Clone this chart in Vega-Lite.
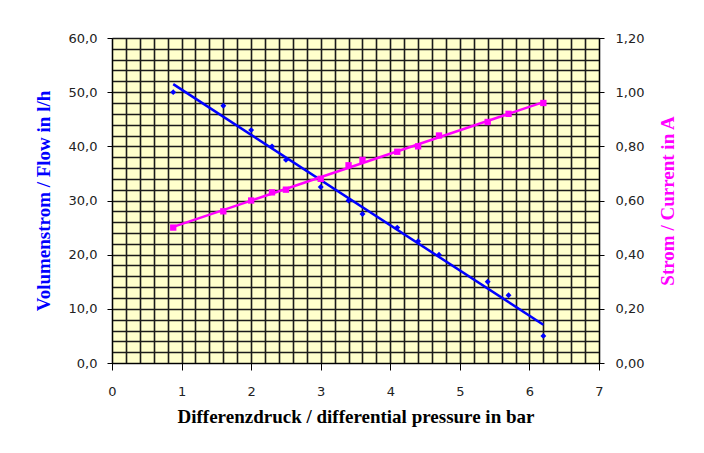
{
  "$schema": "https://vega.github.io/schema/vega-lite/v6.json",
  "width": 487,
  "height": 325,
  "autosize": {"type": "none"},
  "padding": {"left": 112, "top": 38, "right": 105, "bottom": 90},
  "background": "#ffffff",
  "config": {
    "view": {"fill": "#FFFFCC", "stroke": "#808080", "strokeWidth": 1},
    "axis": {
      "labelFont": "DejaVu Sans",
      "labelFontSize": 13,
      "labelColor": "#222222",
      "domainColor": "#000000",
      "tickColor": "#000000",
      "titleFont": "Liberation Serif",
      "titleFontWeight": "bold",
      "titleFontSize": 19,
      "labelOverlap": false,
      "labelFlush": false
    }
  },
  "datasets": {
    "flow": [
      {"pressure": 0.88, "flow": 50.0},
      {"pressure": 1.6, "flow": 47.5},
      {"pressure": 2.0, "flow": 43.0},
      {"pressure": 2.3, "flow": 40.0},
      {"pressure": 2.5, "flow": 37.5},
      {"pressure": 3.0, "flow": 32.5},
      {"pressure": 3.4, "flow": 30.0},
      {"pressure": 3.6, "flow": 27.5},
      {"pressure": 4.1, "flow": 25.0},
      {"pressure": 4.4, "flow": 22.5},
      {"pressure": 4.7, "flow": 20.0},
      {"pressure": 5.4, "flow": 15.0},
      {"pressure": 5.7, "flow": 12.5},
      {"pressure": 6.2, "flow": 5.0}
    ],
    "current": [
      {"pressure": 0.88, "current": 0.50},
      {"pressure": 1.6, "current": 0.56},
      {"pressure": 2.0, "current": 0.60},
      {"pressure": 2.3, "current": 0.63},
      {"pressure": 2.5, "current": 0.64},
      {"pressure": 3.0, "current": 0.68},
      {"pressure": 3.4, "current": 0.73},
      {"pressure": 3.6, "current": 0.75},
      {"pressure": 4.1, "current": 0.78},
      {"pressure": 4.4, "current": 0.80},
      {"pressure": 4.7, "current": 0.84},
      {"pressure": 5.4, "current": 0.89},
      {"pressure": 5.7, "current": 0.92},
      {"pressure": 6.2, "current": 0.96}
    ]
  },
  "encoding": {
    "x": {
      "field": "pressure",
      "type": "quantitative",
      "scale": {"domain": [0, 7], "nice": false, "zero": false},
      "axis": {
        "values": [0, 0.2, 0.4, 0.6, 0.8, 1, 1.2, 1.4, 1.6, 1.8, 2, 2.2, 2.4, 2.6, 2.8, 3, 3.2, 3.4, 3.6, 3.8, 4, 4.2, 4.4, 4.6, 4.8, 5, 5.2, 5.4, 5.6, 5.8, 6, 6.2, 6.4, 6.6, 6.8, 7],
        "grid": true,
        "gridColor": "#1a1a1a",
        "gridWidth": 1.6,
        "gridOpacity": 1,
        "tickSize": 7,
        "tickOpacity": {"condition": {"test": "datum.value == round(datum.value)", "value": 1}, "value": 0},
        "labelExpr": "datum.value == round(datum.value) ? format(datum.value, 'd') : ''",
        "labelPadding": 15,
        "title": "Differenzdruck / differential pressure in bar",
        "titleColor": "#000000",
        "titleX": 243.5,
        "titleY": 53,
        "titleAlign": "center",
        "titleBaseline": "middle"
      }
    }
  },
  "layer": [
    {
      "data": {"name": "flow"},
      "encoding": {
        "y": {
          "field": "flow",
          "type": "quantitative",
          "scale": {"domain": [0, 60], "nice": false},
          "axis": {
            "orient": "left",
            "values": [0, 2, 4, 6, 8, 10, 12, 14, 16, 18, 20, 22, 24, 26, 28, 30, 32, 34, 36, 38, 40, 42, 44, 46, 48, 50, 52, 54, 56, 58, 60],
            "grid": true,
            "gridColor": "#1a1a1a",
            "gridWidth": 1.6,
            "gridOpacity": 1,
            "tickSize": 5,
            "tickOpacity": {"condition": {"test": "datum.value % 10 == 0", "value": 1}, "value": 0},
            "labelExpr": "datum.value % 10 == 0 ? replace(format(datum.value, '.1f'), '.', ',') : ''",
            "labelPadding": 10,
            "title": "Volumenstrom / Flow in l/h",
            "titleColor": "#0000FF",
            "titleAngle": -90,
            "titleX": -69,
            "titleY": 162.5,
            "titleAlign": "center",
            "titleBaseline": "middle"
          }
        }
      },
      "layer": [
        {
          "transform": [{"regression": "flow", "on": "pressure"}],
          "mark": {"type": "line", "color": "#0000FF", "strokeWidth": 2.5}
        },
        {
          "mark": {"type": "point", "shape": "diamond", "filled": true, "color": "#0000FF", "size": 35, "opacity": 1}
        }
      ]
    },
    {
      "data": {"name": "current"},
      "encoding": {
        "y": {
          "field": "current",
          "type": "quantitative",
          "scale": {"domain": [0, 1.2], "nice": false},
          "axis": {
            "orient": "right",
            "values": [0, 0.2, 0.4, 0.6, 0.8, 1, 1.2],
            "grid": false,
            "tickSize": 5,
            "labelExpr": "replace(format(datum.value, '.2f'), '.', ',')",
            "labelPadding": 11,
            "title": "Strom / Current in A",
            "titleColor": "#FF00FF",
            "titleAngle": 270,
            "titleX": 68,
            "titleY": 162.5,
            "titleAlign": "center",
            "titleBaseline": "middle"
          }
        }
      },
      "layer": [
        {
          "transform": [{"regression": "current", "on": "pressure"}],
          "mark": {"type": "line", "color": "#FF00FF", "strokeWidth": 2.5}
        },
        {
          "mark": {"type": "point", "shape": "square", "filled": true, "color": "#FF00FF", "size": 40, "opacity": 1}
        }
      ]
    }
  ],
  "resolve": {"scale": {"y": "independent"}}
}
